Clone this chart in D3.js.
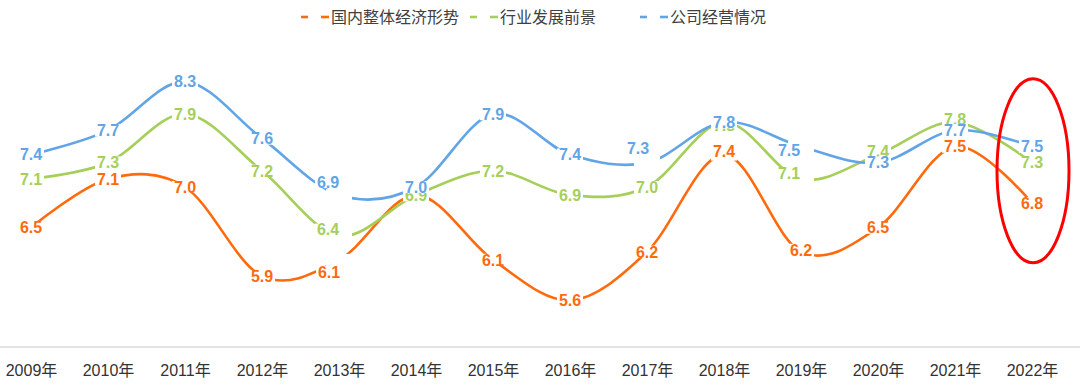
<!doctype html>
<html lang="zh">
<head>
<meta charset="utf-8">
<script src="https://d3js.org/d3.v7.min.js"></script>
<style>
    body { margin: 0; padding: 0; background: #fff; }
    svg { display: block; }
    .axis text { font-family: "Liberation Sans", "Noto Sans CJK SC", sans-serif; font-size: 16px; fill: #333; }
    .legend text { font-family: "Noto Sans CJK SC", sans-serif; font-size: 16px; fill: #404040; }
    .lbl { font-family: "Liberation Sans", Arial, sans-serif; font-size: 16px; font-weight: bold; }
</style>
</head>
<body>
<div id="chart"></div>
<script>
// data
var years = ["2009年", "2010年", "2011年", "2012年", "2013年", "2014年", "2015年",
             "2016年", "2017年", "2018年", "2019年", "2020年", "2021年", "2022年"];
var economy  = [6.5, 7.1, 7.0, 5.9, 6.1, 6.9, 6.1, 5.6, 6.2, 7.4, 6.2, 6.5, 7.5, 6.8];
var industry = [7.1, 7.3, 7.9, 7.2, 6.4, 6.9, 7.2, 6.9, 7.0, 7.8, 7.1, 7.4, 7.8, 7.3];
var company  = [7.4, 7.7, 8.3, 7.6, 6.9, 7.0, 7.9, 7.4, 7.3, 7.8, 7.5, 7.3, 7.7, 7.5];
var seriesNames = ["国内整体经济形势", "行业发展前景", "公司经营情况"];

var colors = ["#ff6a0d", "#a6cf5a", "#62a5e6"];
var series = [economy, industry, company];

// label nudges (series-index, year-index) -> [dx, dy]
var nudge = {
    "0-4": [-10, 12], "0-9": [0, -3], "0-10": [0, -2],
    "1-4": [-11, -6], "1-9": [0, 3], "1-10": [-12, -6], "1-11": [0, -3], "1-12": [0, -3],
    "2-4": [-11, -13], "2-8": [-9, -14], "2-10": [-12, 4]
};

var width = 1080, height = 386;

var svg = d3.select("#chart").append("svg")
    .attr("width", width)
    .attr("height", height);

var x = d3.scalePoint().domain(years).range([31, 1032]);
var y = d3.scaleLinear().domain([5, 9]).range([349, 25]);

// bottom axis line
svg.append("line")
    .attr("x1", 0).attr("x2", width)
    .attr("y1", 347).attr("y2", 347)
    .attr("stroke", "#e4e4e4")
    .attr("stroke-width", 2);

var xAxis = svg.append("g")
    .attr("class", "axis")
    .attr("transform", "translate(0,347)")
    .call(d3.axisBottom(x).tickSize(0).tickPadding(18));
xAxis.select(".domain").remove();

// lines
var line = d3.line()
    .x(function (d, i) { return x(years[i]); })
    .y(function (d) { return y(d); })
    .curve(d3.curveCatmullRom.alpha(0));

series.forEach(function (s, k) {
    svg.append("path")
        .datum(s)
        .attr("fill", "none")
        .attr("stroke", colors[k])
        .attr("stroke-width", 2.6)
        .attr("d", line);
});

// data labels (white boxes cut the lines like the original)
series.forEach(function (s, k) {
    var g = svg.append("g");
    s.forEach(function (v, i) {
        var px = x(years[i]), py = y(v);
        var n = nudge[k + "-" + i] || [0, 0];
        var tx = px + n[0], ty = py + n[1];
        g.append("rect")
            .attr("x", px - 13).attr("y", py - 6)
            .attr("width", 26).attr("height", 12)
            .attr("fill", "#fff");
        g.append("rect")
            .attr("x", tx - 13).attr("y", ty - 6)
            .attr("width", 26).attr("height", 12)
            .attr("fill", "#fff");
        g.append("text")
            .attr("class", "lbl")
            .attr("x", tx).attr("y", ty)
            .attr("dy", "0.36em")
            .attr("text-anchor", "middle")
            .attr("fill", colors[k])
            .text(v.toFixed(1));
    });
});

// legend
var legendX = [301, 470, 640];
var legend = svg.append("g").attr("class", "legend");
seriesNames.forEach(function (name, k) {
    var lx = legendX[k];
    legend.append("line")
        .attr("x1", lx).attr("x2", lx + 7).attr("y1", 17).attr("y2", 17)
        .attr("stroke", colors[k]).attr("stroke-width", 2.6);
    legend.append("line")
        .attr("x1", lx + 20).attr("x2", lx + 28).attr("y1", 17).attr("y2", 17)
        .attr("stroke", colors[k]).attr("stroke-width", 2.6);
    legend.append("text")
        .attr("x", lx + 30).attr("y", 17)
        .attr("dy", "0.35em")
        .text(name);
});

// highlight 2022
svg.append("ellipse")
    .attr("cx", x("2022年") + 1)
    .attr("cy", y(7.2))
    .attr("rx", 36)
    .attr("ry", 92)
    .attr("fill", "none")
    .attr("stroke", "#ff0000")
    .attr("stroke-width", 3);
</script>
</body>
</html>
